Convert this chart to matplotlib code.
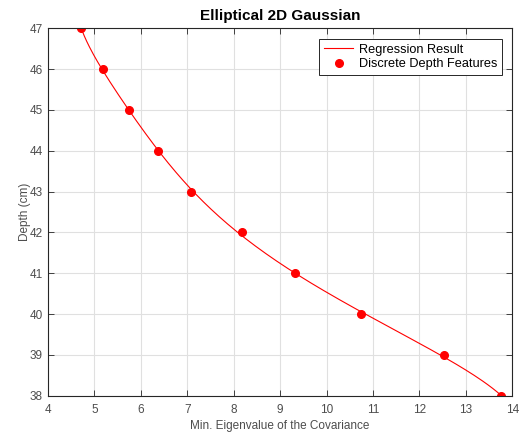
import numpy as np
import matplotlib.pyplot as plt

# discrete depth features
depth_cm = [47, 46, 45, 44, 43, 42, 41, 40, 39, 38]
min_eig = [4.71, 5.18, 5.74, 6.36, 7.09, 8.18, 9.32, 10.74, 12.52, 13.75]

x_ticks = list(range(4, 15))
y_ticks = list(range(38, 48))

plt.rcParams['font.family'] = ['Liberation Sans', 'DejaVu Sans']

# regression: eigenvalue as a polynomial in depth
coef = np.polyfit(depth_cm, min_eig, 5)
d_fine = np.linspace(min(depth_cm), max(depth_cm), 200)
x_fine = np.polyval(coef, d_fine)

fig = plt.figure(figsize=(5.23, 4.33), dpi=100)
ax = fig.add_axes([0.0918, 0.0861, 0.8877, 0.8485])

ax.plot(x_fine, d_fine, '-', color='red', linewidth=0.8, label='Regression Result')
ax.plot(min_eig, depth_cm, 'o', color='red', markersize=5.5, linestyle='none',
        label='Discrete Depth Features')

ax.set_xlim(4, 14)
ax.set_ylim(38, 47)
ax.set_xticks(x_ticks)
ax.set_yticks(y_ticks)
ax.grid(True, color='#e0e0e0', linewidth=0.8)
ax.set_axisbelow(True)
ax.tick_params(direction='in', top=True, right=True, length=4, width=0.6,
               labelsize=8.5, labelcolor='#4d4d4d', color='#262626')
ax.tick_params(axis='x', pad=6)
ax.tick_params(axis='y', pad=4)
for s in ax.spines.values():
    s.set_color('#262626')
    s.set_linewidth(0.8)

ax.set_title('Elliptical 2D Gaussian', fontsize=11, fontweight='bold', pad=6)
ax.set_xlabel('Min. Eigenvalue of the Covariance', fontsize=8.5, color='#4d4d4d', labelpad=3)
ax.set_ylabel('Depth (cm)', fontsize=8.5, color='#4d4d4d', labelpad=-1)

leg = ax.legend(loc='upper right', fontsize=9.2, fancybox=False, framealpha=1,
                edgecolor='#262626', borderaxespad=0.8, handlelength=2.3,
                handletextpad=0.4, borderpad=0.4, labelspacing=0.2)
leg.get_frame().set_linewidth(0.7)

fig.savefig('out.png', dpi=100)
